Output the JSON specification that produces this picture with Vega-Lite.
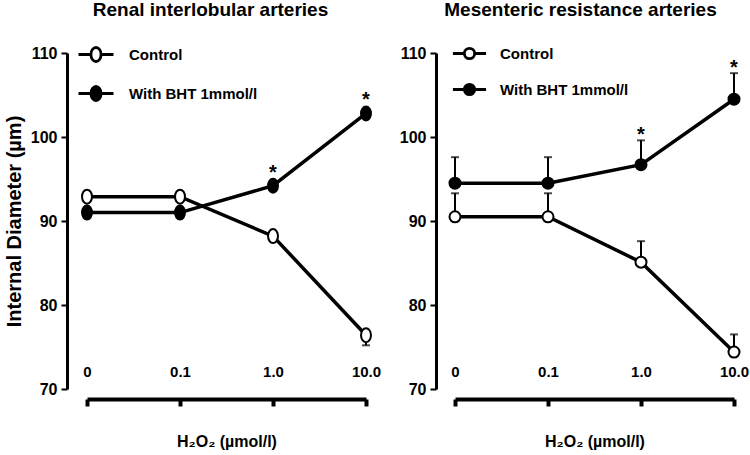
{
  "$schema": "https://vega.github.io/schema/vega-lite/v6.json",
  "background": "white",
  "padding": {"left": 4, "top": 0, "right": 5, "bottom": 5},
  "bounds": "flush",
  "spacing": 89,
  "config": {
    "font": "Liberation Sans",
    "view": {"stroke": null},
    "axis": {"labelFont": "Liberation Sans", "titleFont": "Liberation Sans", "labelFontWeight": "bold", "titleFontWeight": "bold", "labelColor": "black", "titleColor": "black", "domainColor": "black", "tickColor": "black", "grid": false},
    "legend": {"labelFont": "Liberation Sans", "labelFontWeight": "bold", "labelColor": "black", "labelFontSize": 15}
  },
  "datasets": {
    "renal": [
      {"dose": "0", "group": "Control", "mean": 92.9, "bar_end": 92.9, "sig": ""},
      {"dose": "0.1", "group": "Control", "mean": 92.9, "bar_end": 92.9, "sig": ""},
      {"dose": "1.0", "group": "Control", "mean": 88.2, "bar_end": 88.2, "sig": ""},
      {"dose": "10.0", "group": "Control", "mean": 76.4, "bar_end": 75.2, "sig": ""},
      {"dose": "0", "group": "With BHT 1mmol/l", "mean": 91.0, "bar_end": 91.0, "sig": ""},
      {"dose": "0.1", "group": "With BHT 1mmol/l", "mean": 91.0, "bar_end": 91.0, "sig": ""},
      {"dose": "1.0", "group": "With BHT 1mmol/l", "mean": 94.2, "bar_end": 94.2, "sig": "*"},
      {"dose": "10.0", "group": "With BHT 1mmol/l", "mean": 102.8, "bar_end": 102.8, "sig": "*"}
    ],
    "mesenteric": [
      {"dose": "0", "group": "Control", "mean": 90.5, "bar_end": 93.3, "sig": ""},
      {"dose": "0.1", "group": "Control", "mean": 90.5, "bar_end": 93.3, "sig": ""},
      {"dose": "1.0", "group": "Control", "mean": 85.1, "bar_end": 87.6, "sig": ""},
      {"dose": "10.0", "group": "Control", "mean": 74.4, "bar_end": 76.5, "sig": ""},
      {"dose": "0", "group": "With BHT 1mmol/l", "mean": 94.5, "bar_end": 97.6, "sig": ""},
      {"dose": "0.1", "group": "With BHT 1mmol/l", "mean": 94.5, "bar_end": 97.6, "sig": ""},
      {"dose": "1.0", "group": "With BHT 1mmol/l", "mean": 96.7, "bar_end": 99.6, "sig": "*"},
      {"dose": "10.0", "group": "With BHT 1mmol/l", "mean": 104.5, "bar_end": 107.6, "sig": "*"}
    ]
  },
  "resolve": {"legend": {"fill": "independent"}, "scale": {"fill": "independent"}},
  "hconcat": [
    {
      "width": 279,
      "height": 336,
      "title": {"text": "Renal interlobular arteries", "fontSize": 19, "fontWeight": "bold", "font": "Liberation Sans", "color": "black", "anchor": "middle", "dx": -16, "offset": 16},
      "data": {"name": "renal"},
      "encoding": {
        "x": {"field": "dose", "type": "ordinal", "sort": ["0", "0.1", "1.0", "10.0"], "scale": {"type": "point", "padding": 0},
          "axis": {"title": "H₂O₂ (µmol/l)", "titleFontSize": 16, "titlePadding": 25, "labelAngle": 0, "labelFontSize": 15, "labelBaseline": "middle", "labelPadding": -35, "offset": 10, "domainWidth": 4, "tickWidth": 4, "tickSize": 7}}
      },
      "layer": [
        {
          "transform": [{"filter": "datum.bar_end != datum.mean"}],
          "mark": {"type": "rule", "color": "black", "strokeWidth": 2},
          "encoding": {"y": {"field": "mean", "type": "quantitative"}, "y2": {"field": "bar_end"}}
        },
        {
          "transform": [{"filter": "datum.bar_end != datum.mean"}],
          "mark": {"type": "tick", "color": "black", "size": 8, "thickness": 2},
          "encoding": {"y": {"field": "bar_end", "type": "quantitative"}}
        },
        {
          "mark": {"type": "line", "color": "black", "strokeWidth": 3.5},
          "encoding": {
            "y": {"field": "mean", "type": "quantitative", "scale": {"domain": [70, 110], "nice": false, "zero": false},
              "axis": {"title": "Internal Diameter (µm)", "titleFontSize": 20, "titlePadding": 6, "values": [70, 80, 90, 100, 110], "labelFontSize": 16, "labelPadding": 4, "offset": 20, "domainWidth": 3, "tickWidth": 2, "tickSize": 6}},
            "detail": {"field": "group"}
          }
        },
        {
          "mark": {"type": "point", "filled": true, "stroke": "black", "strokeWidth": 2, "opacity": 1, "size": 196, "shape": "M0,-1A0.71,1 0 1,1 0,1A0.71,1 0 1,1 0,-1Z"},
          "encoding": {
            "y": {"field": "mean", "type": "quantitative"},
            "fill": {"field": "group", "type": "nominal", "scale": {"domain": ["Control", "With BHT 1mmol/l"], "range": ["white", "black"]},
              "legend": {"title": null, "orient": "none", "legendX": -10, "legendY": -17.5, "padding": 0, "symbolType": "M-1,0H-0.29M0.29,0H1M-0.29,0A0.29,0.4 0 1,1 0.29,0A0.29,0.4 0 1,1 -0.29,0Z", "symbolSize": 1225, "symbolStrokeColor": "black", "symbolStrokeWidth": 2.8, "labelOffset": 14, "rowPadding": 7}}
          }
        },
        {
          "transform": [{"filter": "datum.sig != ''"}],
          "mark": {"type": "text", "fontSize": 20, "fontWeight": "bold", "color": "black", "baseline": "alphabetic", "dy": -7},
          "encoding": {"y": {"field": "bar_end", "type": "quantitative"}, "text": {"field": "sig"}}
        }
      ]
    },
    {
      "width": 279,
      "height": 336,
      "title": {"text": "Mesenteric resistance arteries", "fontSize": 19, "fontWeight": "bold", "font": "Liberation Sans", "color": "black", "anchor": "middle", "dx": -14, "offset": 16},
      "data": {"name": "mesenteric"},
      "encoding": {
        "x": {"field": "dose", "type": "ordinal", "sort": ["0", "0.1", "1.0", "10.0"], "scale": {"type": "point", "padding": 0},
          "axis": {"title": "H₂O₂ (µmol/l)", "titleFontSize": 16, "titlePadding": 25, "labelAngle": 0, "labelFontSize": 15, "labelBaseline": "middle", "labelPadding": -35, "offset": 10, "domainWidth": 4, "tickWidth": 4, "tickSize": 7}}
      },
      "layer": [
        {
          "transform": [{"filter": "datum.bar_end != datum.mean"}],
          "mark": {"type": "rule", "color": "black", "strokeWidth": 2},
          "encoding": {"y": {"field": "mean", "type": "quantitative"}, "y2": {"field": "bar_end"}}
        },
        {
          "transform": [{"filter": "datum.bar_end != datum.mean"}],
          "mark": {"type": "tick", "color": "black", "size": 8, "thickness": 2},
          "encoding": {"y": {"field": "bar_end", "type": "quantitative"}}
        },
        {
          "mark": {"type": "line", "color": "black", "strokeWidth": 3.5},
          "encoding": {
            "y": {"field": "mean", "type": "quantitative", "scale": {"domain": [70, 110], "nice": false, "zero": false},
              "axis": {"title": null, "values": [70, 80, 90, 100, 110], "labelFontSize": 16, "labelPadding": 4, "offset": 19, "domainWidth": 3, "tickWidth": 2, "tickSize": 6}},
            "detail": {"field": "group"}
          }
        },
        {
          "mark": {"type": "point", "filled": true, "stroke": "black", "strokeWidth": 2, "opacity": 1, "size": 121, "shape": "circle"},
          "encoding": {
            "y": {"field": "mean", "type": "quantitative"},
            "fill": {"field": "group", "type": "nominal", "scale": {"domain": ["Control", "With BHT 1mmol/l"], "range": ["white", "black"]},
              "legend": {"title": null, "orient": "none", "legendX": -3.5, "legendY": -17.5, "padding": 0, "symbolType": "M-1,0H-0.31M0.31,0H1M-0.31,0A0.31,0.31 0 1,1 0.31,0A0.31,0.31 0 1,1 -0.31,0Z", "symbolSize": 1100, "symbolStrokeColor": "black", "symbolStrokeWidth": 2.8, "labelOffset": 12.5, "rowPadding": 7}}
          }
        },
        {
          "transform": [{"filter": "datum.sig != ''"}],
          "mark": {"type": "text", "fontSize": 20, "fontWeight": "bold", "color": "black", "baseline": "alphabetic", "dy": 1},
          "encoding": {"y": {"field": "bar_end", "type": "quantitative"}, "text": {"field": "sig"}}
        }
      ]
    }
  ]
}
